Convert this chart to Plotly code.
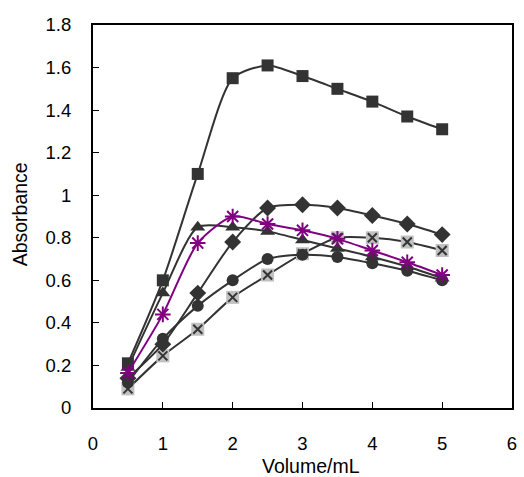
import plotly.graph_objects as go

volume = [0.5, 1.0, 1.5, 2.0, 2.5, 3.0, 3.5, 4.0, 4.5, 5.0]
s_square = [0.21, 0.60, 1.10, 1.55, 1.61, 1.56, 1.50, 1.44, 1.37, 1.31]
s_diamond = [0.14, 0.30, 0.54, 0.78, 0.94, 0.955, 0.94, 0.905, 0.865, 0.815]
s_triangle = [0.19, 0.54, 0.85, 0.85, 0.83, 0.79, 0.75, 0.71, 0.665, 0.61]
s_asterisk = [0.165, 0.44, 0.775, 0.90, 0.865, 0.835, 0.795, 0.74, 0.685, 0.625]
s_circle = [0.12, 0.325, 0.48, 0.60, 0.70, 0.72, 0.71, 0.68, 0.645, 0.60]
s_greyx = [0.09, 0.245, 0.37, 0.52, 0.625, 0.725, 0.80, 0.80, 0.78, 0.74]

x_ticks = [0, 1, 2, 3, 4, 5, 6]
y_ticks = [0, 0.2, 0.4, 0.6, 0.8, 1.0, 1.2, 1.4, 1.6, 1.8]
y_ticklabels = ["0", "0.2", "0.4", "0.6", "0.8", "1", "1.2", "1.4", "1.6", "1.8"]

DARK = "#333333"
PURPLE = "#800080"
line_style = dict(color=DARK, width=2, shape="spline", smoothing=0.7)

fig = go.Figure()
fig.add_trace(go.Scatter(x=volume, y=s_greyx, mode="lines+markers", line=line_style,
                         marker=dict(symbol="square", size=13, color="#c0c0c0", line=dict(width=0))))
fig.add_trace(go.Scatter(x=volume, y=s_greyx, mode="markers",
                         marker=dict(symbol="x-thin-open", size=9, color=DARK, line=dict(width=2, color=DARK))))
fig.add_trace(go.Scatter(x=volume, y=s_circle, mode="lines+markers", line=line_style,
                         marker=dict(symbol="circle", size=12, color=DARK)))
fig.add_trace(go.Scatter(x=volume, y=s_diamond, mode="lines+markers", line=line_style,
                         marker=dict(symbol="diamond", size=13, color=DARK)))
fig.add_trace(go.Scatter(x=volume, y=s_triangle, mode="lines+markers", line=line_style,
                         marker=dict(symbol="triangle-up", size=13, color=DARK)))
fig.add_trace(go.Scatter(x=volume, y=s_square, mode="lines+markers", line=line_style,
                         marker=dict(symbol="square", size=12, color=DARK)))
fig.add_trace(go.Scatter(x=volume, y=s_asterisk, mode="lines+markers",
                         line=dict(color=PURPLE, width=2, shape="spline", smoothing=0.7),
                         marker=dict(symbol="asterisk-open", size=13, color=PURPLE,
                                     line=dict(width=2, color=PURPLE))))

FAMILY = "Liberation Sans, Arial, sans-serif"
tick_font = dict(family=FAMILY, size=18.5, color="black")
title_font = dict(family=FAMILY, size=19.5, color="black")

L, R, T, B, W, H = 93, 7, 25, 69, 524, 477
pw, ph = W - L - R, H - T - B

fig.update_layout(
    width=W, height=H,
    margin=dict(l=L, r=R, t=T, b=B, pad=0),
    paper_bgcolor="white", plot_bgcolor="white",
    showlegend=False,
    font=tick_font,
    xaxis=dict(range=[0, 6], tickvals=x_ticks, ticks="inside", ticklen=6, tickcolor="black",
               showline=True, linecolor="black", linewidth=2, mirror=True,
               showgrid=False, zeroline=False, ticklabelstandoff=18,
               ticklabeloverflow="allow", tickfont=tick_font),
    yaxis=dict(range=[0, 1.8], tickvals=y_ticks, ticktext=y_ticklabels, ticks="inside",
               ticklen=6, tickcolor="black",
               showline=True, linecolor="black", linewidth=2, mirror=True,
               showgrid=False, zeroline=False, ticklabelstandoff=16,
               ticklabeloverflow="allow", tickfont=tick_font),
    annotations=[
        dict(text="Absorbance", x=(19.5 - L) / pw, y=(H - B - 214) / ph, xref="paper", yref="paper",
             showarrow=False, textangle=-90, font=title_font, xanchor="center", yanchor="middle"),
        dict(text="Volume/mL", x=(314 - L) / pw, y=(H - B - 466) / ph, xref="paper", yref="paper",
             showarrow=False, font=title_font, xanchor="center", yanchor="middle"),
    ],
)
fig.write_html("out.html", config={"displayModeBar": False},
               post_script="document.body.style.margin='0';document.body.style.overflow='hidden';")
